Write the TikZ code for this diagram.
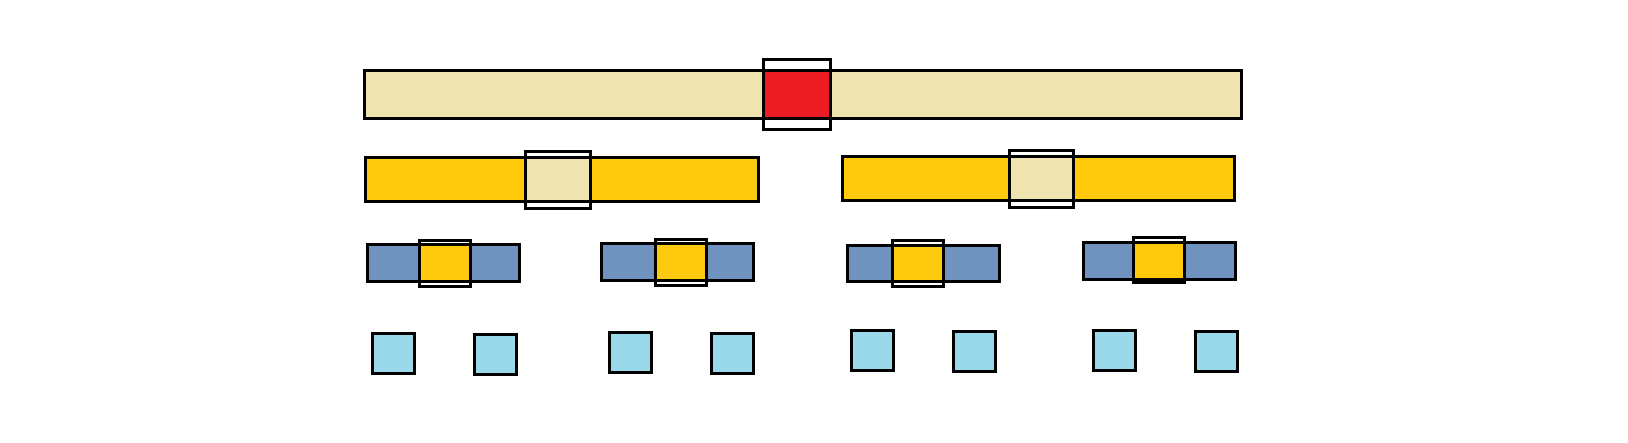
\documentclass[tikz,border=0pt]{standalone}
\usepackage{tikz}

\definecolor{sand}{RGB}{239,228,176}
\definecolor{hot}{RGB}{237,28,36}
\definecolor{gold}{RGB}{255,201,14}
\definecolor{slate}{RGB}{112,146,190}
\definecolor{sky}{RGB}{153,217,234}

\begin{document}
\begin{tikzpicture}[x=0.01cm, y=-0.01cm, line width=0.85pt,
    box/.style = {draw, rectangle, inner sep=0pt, outer sep=0pt},
    bar/.style = {box, minimum height=#1},
    frame/.style = {box, minimum width=#1},
    leaf/.style = {box, fill=sky, minimum width=0.42cm, minimum height=0.40cm}]
    \useasboundingbox (0,0) rectangle (1628,443);

    % level 0
    \node[bar=0.476cm, fill=sand, minimum width=8.767cm] (r) at (803.3,94.5) {};
    \node[box, fill=hot, minimum width=0.667cm, minimum height=0.476cm] (rc) at (796.7,94.5) {};
    \node[frame=0.667cm, minimum height=0.70cm] (rf) at (796.7,94.3) {};

    % level 1
    \node[bar=0.44cm, fill=gold, minimum width=3.923cm] (a) at (562.2,179.3) {};
    \node[box, fill=sand, minimum width=0.64cm, minimum height=0.44cm] (ac) at (558,179.3) {};
    \node[frame=0.64cm, minimum height=0.566cm] (af) at (558,180) {};
    \node[bar=0.436cm, fill=gold, minimum width=3.92cm] (b) at (1038.3,178.5) {};
    \node[box, fill=sand, minimum width=0.64cm, minimum height=0.436cm] (bc) at (1041.3,178.5) {};
    \node[frame=0.64cm, minimum height=0.566cm] (bf) at (1041.3,179) {};

    % level 2
    \node[bar=0.365cm, fill=slate, minimum width=1.52cm] (a1) at (443.3,262.9) {};
    \node[box, fill=gold, minimum width=0.51cm, minimum height=0.365cm] (a1c) at (445,262.9) {};
    \node[frame=0.51cm, minimum height=0.456cm] (a1f) at (445,263.2) {};
    \node[bar=0.365cm, fill=slate, minimum width=1.52cm] (a2) at (677.3,262.2) {};
    \node[box, fill=gold, minimum width=0.51cm, minimum height=0.365cm] (a2c) at (680.7,262.2) {};
    \node[frame=0.51cm, minimum height=0.456cm] (a2f) at (680.7,262.3) {};
    \node[bar=0.365cm, fill=slate, minimum width=1.52cm] (b1) at (923.3,263.7) {};
    \node[box, fill=gold, minimum width=0.51cm, minimum height=0.365cm] (b1c) at (918,263.7) {};
    \node[frame=0.51cm, minimum height=0.456cm] (b1f) at (918,263.8) {};
    \node[bar=0.365cm, fill=slate, minimum width=1.52cm] (b2) at (1159.7,261) {};
    \node[box, fill=gold, minimum width=0.51cm, minimum height=0.365cm] (b2c) at (1158.8,261) {};
    \node[frame=0.51cm, minimum height=0.456cm] (b2f) at (1158.8,260) {};

    % level 3
    \node[leaf] (l1) at (393.3,353.3) {};
    \node[leaf] (l2) at (495.2,354.3) {};
    \node[leaf] (l3) at (630.5,352.5) {};
    \node[leaf] (l4) at (732.5,353.5) {};
    \node[leaf] (l5) at (872.3,350.5) {};
    \node[leaf] (l6) at (974.3,351.7) {};
    \node[leaf] (l7) at (1114.3,350.5) {};
    \node[leaf] (l8) at (1216.3,351.5) {};
\end{tikzpicture}
\end{document}
